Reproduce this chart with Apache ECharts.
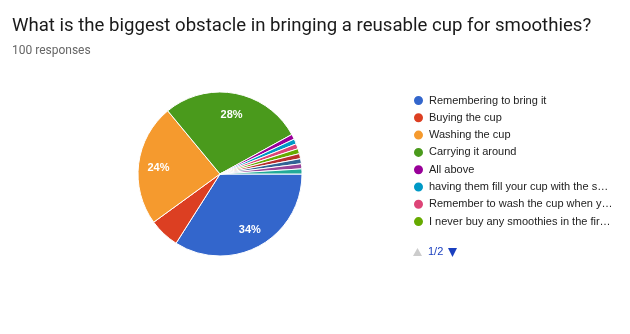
<!DOCTYPE html>
<html>
<head>
<meta charset="utf-8">
<script src="https://cdn.jsdelivr.net/npm/echarts@6/dist/echarts.min.js"></script>
<style>
html,body{margin:0;padding:0;background:#fff;}
#chart{width:630px;height:334px;}
</style>
</head>
<body>
<div id="chart"></div>
<script>
var titleText = 'What is the biggest obstacle in bringing a reusable cup for smoothies?';
var subText = '100 responses';
var categories = [
  'Remembering to bring it',
  'Buying the cup',
  'Washing the cup',
  'Carrying it around',
  'All above',
  'having them fill your cup with the smoothie',
  'Remember to wash the cup when you get home',
  'I never buy any smoothies in the first place',
  'It takes up space in my bag',
  'I don\'t own a reusable cup',
  'Hygiene concerns',
  'Not sure'
];
var values = [34, 6, 24, 28, 1, 1, 1, 1, 1, 1, 1, 1];
var colors = ['#3366cc', '#dc3f22', '#f59a2e', '#4a9a1c', '#990099', '#0099c6', '#dd4477', '#66aa00', '#b82e2e', '#316395', '#994499', '#22aa99'];
var legendPageSize = 8;
var legendPage = 1;
var legendPages = Math.ceil(categories.length / legendPageSize);

var pieData = categories.map(function (name, i) {
  return { name: name, value: values[i] };
});

var chart = echarts.init(document.getElementById('chart'));
chart.setOption({
  animation: false,
  color: colors,
  title: {
    text: titleText,
    subtext: subText,
    left: 7,
    top: 12,
    itemGap: 9,
    textStyle: { fontFamily: 'Roboto', fontSize: 18.6, fontWeight: 'normal', color: '#1a1a1a' },
    subtextStyle: { fontFamily: 'Roboto', fontSize: 12, color: '#666666' }
  },
  legend: {
    orient: 'vertical',
    left: 412,
    top: 94,
    padding: 0,
    icon: 'circle',
    itemWidth: 11,
    itemHeight: 11,
    itemGap: 4.3,
    data: categories.slice((legendPage - 1) * legendPageSize, legendPage * legendPageSize),
    textStyle: {
      fontFamily: 'Arial', fontSize: 11, color: '#222222',
      width: 187, overflow: 'truncate', ellipsis: '…'
    }
  },
  graphic: [
    {
      type: 'polygon', left: 413, top: 248,
      shape: { points: [[4.5, 0], [9, 8], [0, 8]] },
      style: { fill: '#cccccc' }
    },
    {
      type: 'text', left: 428, top: 246,
      style: { text: legendPage + '/' + legendPages, fill: '#1a3fbf', font: '11px Arial' }
    },
    {
      type: 'polygon', left: 448, top: 248,
      shape: { points: [[0, 0], [9, 0], [4.5, 9]] },
      style: { fill: '#1a3fbf' }
    }
  ],
  series: [
    {
      type: 'pie',
      center: [220, 174],
      radius: [0, 82],
      startAngle: 0,
      clockwise: true,
      data: pieData,
      label: { show: false },
      labelLine: { show: false },
      itemStyle: { borderColor: '#ffffff', borderWidth: 1 },
      emphasis: { disabled: true }
    },
    {
      type: 'pie',
      center: [220, 176],
      radius: [34, 84],
      startAngle: 0,
      clockwise: true,
      silent: true,
      data: pieData,
      itemStyle: { color: 'rgba(0,0,0,0)' },
      labelLine: { show: false },
      label: {
        show: true,
        position: 'inside',
        color: '#ffffff',
        fontFamily: 'Arial',
        fontWeight: 'bold',
        fontSize: 11,
        formatter: function (p) { return p.value >= 10 ? Math.round(p.percent) + '%' : ''; }
      },
      emphasis: { disabled: true }
    }
  ]
});
</script>
</body>
</html>
